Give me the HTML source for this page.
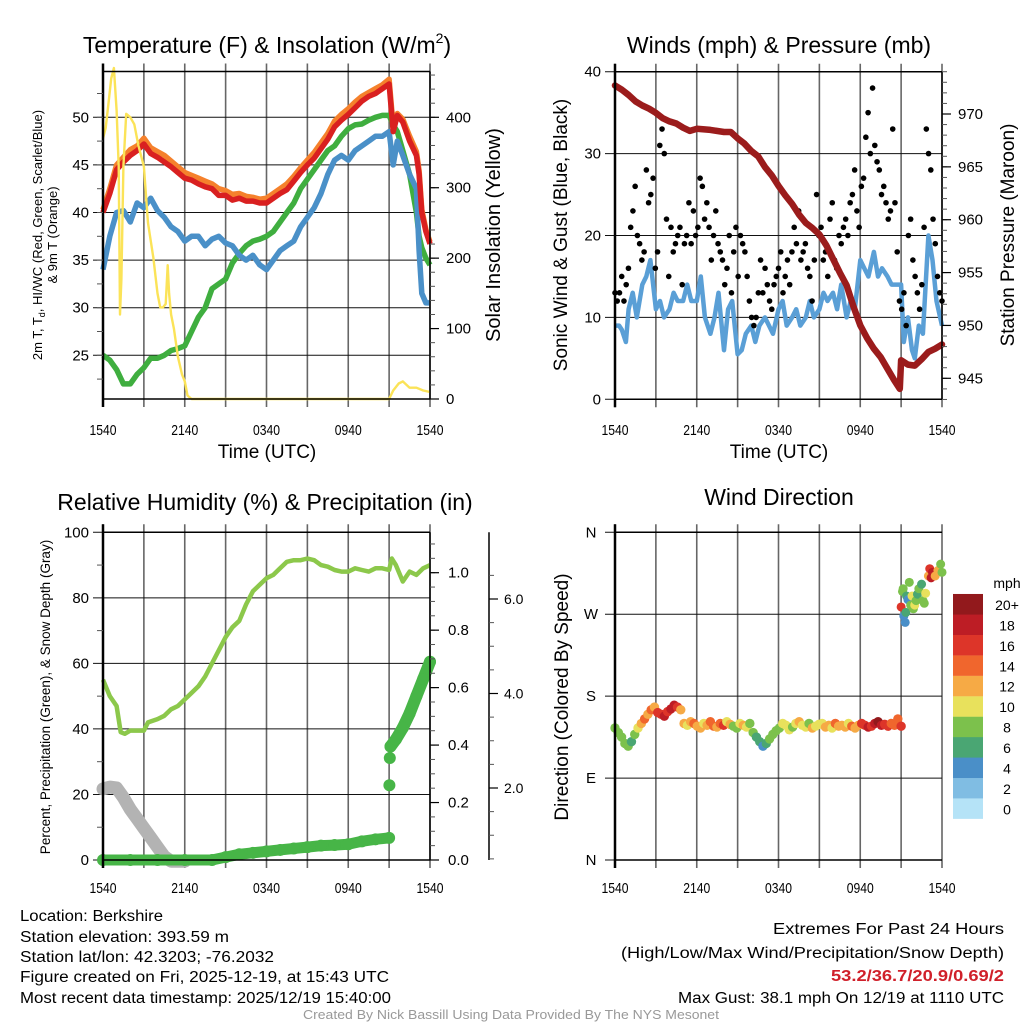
<!DOCTYPE html>
<html><head><meta charset="utf-8"><style>
html,body{margin:0;padding:0;background:#fff;}
svg{display:block;font-family:"Liberation Sans",sans-serif;}
</style></head><body>
<svg id="fig" width="1024" height="1024" viewBox="0 0 1024 1024" xmlns="http://www.w3.org/2000/svg">
<rect x="0" y="0" width="1024" height="1024" fill="#fff"/>
<g id="layer-grid"></g>
<g id="layer-data"></g>
<g id="layer-axes"></g>
<g id="layer-text" fill="#000">
<text x="267" y="53" font-size="23" text-anchor="middle">Temperature (F) &amp; Insolation (W/m<tspan font-size="14" dy="-10">2</tspan><tspan dy="10">)</tspan></text>
<text x="779" y="53" font-size="23" text-anchor="middle">Winds (mph) &amp; Pressure (mb)</text>
<text x="265" y="510" font-size="23" text-anchor="middle">Relative Humidity (%) &amp; Precipitation (in)</text>
<text x="779" y="505" font-size="23" text-anchor="middle">Wind Direction</text>

<text transform="translate(42,235) rotate(-90)" font-size="13" text-anchor="middle">2m T, T<tspan font-size="9" dy="3">d</tspan><tspan dy="-3">, HI/WC (Red, Green, Scarlet/Blue)</tspan></text>
<text transform="translate(57,235) rotate(-90)" font-size="13" text-anchor="middle">&amp; 9m T (Orange)</text>
<text transform="translate(500,235) rotate(-90)" font-size="20" text-anchor="middle">Solar Insolation (Yellow)</text>
<text x="267" y="458" font-size="19" text-anchor="middle">Time (UTC)</text>
<text transform="translate(567,235) rotate(-90)" font-size="19" text-anchor="middle">Sonic Wind &amp; Gust (Blue, Black)</text>
<text transform="translate(1014,235) rotate(-90)" font-size="19" text-anchor="middle">Station Pressure (Maroon)</text>
<text x="779" y="458" font-size="19" text-anchor="middle">Time (UTC)</text>
<text transform="translate(50,697) rotate(-90)" font-size="13.5" text-anchor="middle">Percent, Precipitation (Green), &amp; Snow Depth (Gray)</text>
<text transform="translate(568,697) rotate(-90)" font-size="19" text-anchor="middle">Direction (Colored By Speed)</text>
<text x="1007" y="588" font-size="14" text-anchor="middle">mph</text>

<text x="20" y="921" font-size="15.5" textLength="143" lengthAdjust="spacingAndGlyphs">Location: Berkshire</text>
<text x="20" y="942" font-size="15.5" textLength="209" lengthAdjust="spacingAndGlyphs">Station elevation: 393.59 m</text>
<text x="20" y="962" font-size="15.5" textLength="254" lengthAdjust="spacingAndGlyphs">Station lat/lon: 42.3203; -76.2032</text>
<text x="20" y="982" font-size="15.5" textLength="369" lengthAdjust="spacingAndGlyphs">Figure created on Fri, 2025-12-19, at 15:43 UTC</text>
<text x="20" y="1003" font-size="15.5" textLength="371" lengthAdjust="spacingAndGlyphs">Most recent data timestamp: 2025/12/19 15:40:00</text>
<text x="1004" y="934" font-size="15.5" text-anchor="end" textLength="231" lengthAdjust="spacingAndGlyphs">Extremes For Past 24 Hours</text>
<text x="1004" y="958" font-size="15.5" text-anchor="end" textLength="383" lengthAdjust="spacingAndGlyphs">(High/Low/Max Wind/Precipitation/Snow Depth)</text>
<text x="1004" y="981" font-size="15.5" font-weight="bold" fill="#d0202a" text-anchor="end" textLength="173" lengthAdjust="spacingAndGlyphs">53.2/36.7/20.9/0.69/2</text>
<text x="1004" y="1003" font-size="15.5" text-anchor="end" textLength="326" lengthAdjust="spacingAndGlyphs">Max Gust: 38.1 mph On 12/19 at 1110 UTC</text>
<text x="511" y="1019" font-size="12.5" fill="#999" text-anchor="middle" textLength="416" lengthAdjust="spacingAndGlyphs">Created By Nick Bassill Using Data Provided By The NYS Mesonet</text>
</g>
</svg>
<script>
// ---------- DATA ----------
var xTickLabels = ["1540","2140","0340","0940","1540"];
var tempTicks = [25,30,35,40,45,50];
var solarTicks = [0,100,200,300,400];
var windTicks = [0,10,20,30,40];
var pressTicks = [945,950,955,960,965,970];
var rhTicks = [0,20,40,60,80,100];
var precipTicks = [0.0,0.2,0.4,0.6,0.8,1.0];
var precipTickLabels = ["0.0","0.2","0.4","0.6","0.8","1.0"];
var snowTicks = [2,4,6];
var snowTickLabels = ["2.0","4.0","6.0"];
var dirTicks = [0,90,180,270,360];
var dirTickLabels = ["N","E","S","W","N"];
var speedBins = ["0","2","4","6","8","10","12","14","16","18","20+"];
var speedColors = ["#b5e3f7","#80bde3","#4a8fc8","#4aa673","#7cc14c","#e8e15c","#f6aa45","#f0662d","#dd3529","#bd1d25","#92191c"];

var tempHours = [0,0.5,1,1.5,2,2.5,3,3.5,4,4.5,5,5.5,6,6.5,7,7.5,8,8.5,9,9.5,10,10.5,11,11.5,12,12.5,13,13.5,14,14.5,15,15.5,16,16.5,17,17.5,18,18.5,19,19.5,20,20.5,21,21.3,21.6,22,22.5,23,23.2,23.4,23.7,24];
var tempRed = [40,42,44.5,45.3,46,46.5,47.2,46.2,45.8,45.3,44.8,44.2,43.6,43.4,43,42.7,42.5,41.8,41.8,41.3,41.5,41.2,41.2,41,41,41.5,42,42.4,43.3,44.2,45,45.7,46.7,47.7,49,49.7,50.3,51,51.7,52.2,52.5,53,53.5,48.5,50.2,49.5,47.5,46,44,40,38,36.7];
var tempOrange = [40.3,42.5,45,45.8,46.6,47,47.8,46.8,46.4,46,45.4,44.8,44.2,43.9,43.6,43.3,43,42.5,42.3,41.9,42,41.7,41.6,41.4,41.5,42,42.5,43,43.8,44.7,45.5,46.3,47.3,48.3,49.6,50.3,50.9,51.6,52.2,52.6,53,53.4,54,49,50.4,49.8,48,46.4,44.4,40.3,38.2,36.9];
var tempDew = [25,24.5,23.5,22,22,23,23.7,24.7,24.7,25,25.5,25.7,26,27.5,29,30,32,32.5,33,34.7,35.7,36.5,37,37.2,37.5,38,39,40,41,42.5,43.5,44.5,45.5,46.5,47,48,48.8,49.2,49.3,49.7,50,50.2,50.2,49.2,48.5,46.5,44,40,37.5,36.3,35.2,34.5];
var tempChill = [34,37.5,40,40.2,39,41,40.5,41.5,40.2,39.5,38.5,38,37,37.5,37.5,36.5,37.2,37.5,36.8,36.5,35.5,35,35.5,34.5,34,35,36,36.5,37,38.5,39.5,40.5,42,44,45.5,46,45.5,46.5,47,47.5,48,48,48.5,45,47.5,46,44,42.5,36,31.5,30.5,30.5];

var solarHours = [0,0.2,0.4,0.6,0.8,1,1.15,1.25,1.35,1.5,1.7,2,2.3,2.6,3,3.3,3.7,4,4.2,4.4,4.6,4.75,4.85,5,5.2,5.5,5.8,6,6.2,6.5,10,15,20,21,21.3,21.7,22,22.5,23,23.5,24];
var solarVals = [370,385,420,455,470,410,330,120,170,330,405,400,390,360,330,250,200,150,130,130,135,190,150,120,100,60,35,25,5,0,0,0,0,0,12,22,25,16,16,12,10];

var pressHours = [0,0.5,1,1.5,2,2.5,3,3.5,4,4.5,5,5.5,6,7,8,8.5,9,9.5,10,10.5,11,11.5,12,12.5,13,13.5,14,14.5,15,15.5,16,16.5,17,17.5,18,18.5,19,19.5,20,20.5,20.9,21,21.5,22,22.5,23,23.5,24];
var pressVals = [972.7,972.3,971.8,971.2,970.8,970.5,970.1,969.6,969.3,969.1,968.7,968.4,968.6,968.5,968.3,968.3,967.7,967.2,966.5,966,965,964.2,963.2,962.3,961.5,960.5,959.7,959.2,958.6,957.6,956.3,955,953.8,951.8,950,948.8,947.8,947,945.9,944.8,944,946.7,946.3,946.2,946.8,947.5,947.8,948.2];

var windHours = [0,0.3,0.5,0.8,1,1.3,1.6,2,2.3,2.6,3,3.3,3.6,4,4.3,4.6,5,5.3,5.6,6,6.3,6.6,7,7.3,7.6,8,8.3,8.6,9,9.3,9.6,10,10.3,10.6,11,11.3,11.6,12,12.3,12.6,13,13.3,13.6,14,14.3,14.6,15,15.3,15.6,16,16.3,16.6,17,17.3,17.6,18,18.3,18.6,19,19.3,19.6,20,20.3,20.6,21,21.2,21.5,21.8,22,22.3,22.6,23,23.3,23.6,24];
var windVals = [9,9,8.5,7,11,13,10,14,15,17,11,12,10,11,13,12,12,14,12,12,15,10,8,10,13,6,11,12,5.5,6,8,9,7,9,10,9,8,11,12,9,10,11,9,10,12,10,11,13,12,13,11,14,10,12,11,17,16,15,18,15,16,15,14,14,14,7,10,6,5,9,8,20,17,12,9];

var gustVals = [13,12,13,15,12,14,16,21,23,26,20,19,17,18,28,24,25,27,16,18,31,33,30,22,15,21,18,19,20,21,14,19,20,24,19,23,20,21,27,26,22,24,21,17,20,23,19,18,17,14,16,20,13,18,21,15,20,19,18,15,12,10,9,10,13,17,13,16,14,12,11,14,15,16,18,13,15,17,14,18,21,19,23,17,18,19,16,15,12,17,25,20,21,17,18,15,22,24,17,16,20,19,21,22,20,24,25,28,23,21,26,27,32,35,30,38,31,29,28,25,26,24,22,23,33,24,18,12,11,13,9,20,22,17,15,13,11,14,21,33,30,28,22,19,15,13,12];

var rhHours = [0,0.5,1,1.3,1.6,2,2.5,3,3.3,4,4.5,5,5.5,6,6.5,7,7.5,8,8.5,9,9.5,10,10.5,11,11.5,12,12.5,13,13.5,14,14.5,15,15.5,16,16.5,17,17.5,18,18.5,19,19.5,20,20.5,21,21.2,21.5,22,22.5,23,23.5,24];
var rhVals = [55,50,47,39,38.5,39.5,39.5,39.5,42,43,44,46,47,49,51,53,56,60,64,68,71,73,78,82,84,86,87,89,91,91.5,91.5,92,91.5,90,89.5,88.5,88,88,89,88.5,88,89,89,88.5,92,90,85,88,87,89,90];

var precipHours = [0,2,4,6,8,9,10,11,12,13,14,15,16,17,18,19,20,21,21.02,21.05,21.1,21.5,22,22.5,23,23.5,24];
var precipVals = [0,0,0,0,0,0.01,0.02,0.025,0.03,0.035,0.04,0.045,0.05,0.052,0.055,0.065,0.072,0.077,0.26,0.355,0.395,0.42,0.46,0.51,0.57,0.63,0.69];

var snowHours = [0,0.5,1,1.5,2,2.5,3,3.5,4,4.5,5,5.5,6];
var snowVals = [1.98,2.02,2.0,1.8,1.55,1.35,1.15,0.95,0.75,0.55,0.45,0.45,0.45];

var dirVals1 = [145,140,135,128,125,130,138,145,150,155,160,165,168,162,160,158,163,166,170,168,165,150,148,152,150,147,145,150,148,152,147,146,150,148,152,149,147,145,150,148,146,150,140,135,130,125,128,133,138,142,145,150,148,143,146,150,152,148,146,150,145,147,149,150,146,148,145,150,147,148,146,150,147,145,148,150,148,146,147,150,152,148,149,147,150,148,155,147];
var spdVals1 = [8,8,8,9,9,7,8,10,12,14,13,15,12,16,17,18,17,19,18,16,13,12,11,12,14,12,13,11,13,15,14,12,15,16,10,12,9,8,10,12,11,9,8,7,6,5,6,9,8,8,9,10,10,11,8,10,12,11,10,9,12,11,10,11,12,13,11,14,12,12,13,11,14,12,13,16,17,18,17,19,21,18,17,16,15,14,14,16];
var dirHours2 = [21.0,21.1,21.15,21.2,21.3,21.35,21.4,21.5,21.6,21.7,21.8,21.9,22.0,22.1,22.2,22.3,22.5,22.6,22.7,22.8,23.0,23.1,23.2,23.3,23.5,23.7,23.9,24.0];
var dirVals2 = [278,295,298,268,261,272,290,286,305,280,290,276,280,285,292,298,303,285,282,293,312,320,310,316,312,318,325,316];
var spdVals2 = [17,8,8,5,4,6,7,4,8,9,10,8,10,8,7,8,7,8,9,10,12,17,19,18,12,13,8,8];

// ---------- HELPERS ----------
var NS = "http://www.w3.org/2000/svg";
var gGrid = document.getElementById("layer-grid");
var gData = document.getElementById("layer-data");
var gAxes = document.getElementById("layer-axes");
function mk(tag, parent, attrs) {
  var e = document.createElementNS(NS, tag);
  for (var k in attrs) e.setAttribute(k, attrs[k]);
  parent.appendChild(e);
  return e;
}
function lin(d0, d1, r0, r1) { return function (v) { return r0 + (v - d0) * (r1 - r0) / (d1 - d0); }; }
function pathFrom(xs, ys, fx, fy) {
  var s = "";
  for (var i = 0; i < xs.length; i++) s += (i ? "L" : "M") + fx(xs[i]).toFixed(1) + "," + fy(ys[i]).toFixed(1);
  return s;
}
function speedColor(s) { var i = Math.min(10, Math.floor(s / 2)); return speedColors[i]; }

function panelBase(x0, x1, y0, y1, yGridVals, fy, prefix, labelY) {
  var fx = lin(0, 24, x0, x1);
  for (var h = 0; h <= 24; h += 3) {
    var vl = mk("line", gGrid, {x1: fx(h), x2: fx(h), y1: y0 - 8, y2: y1 + 8, stroke: "#666", "stroke-width": 1.6});
    
    
  }
  for (var i = 0; i < yGridVals.length; i++) {
    var hl = mk("line", gGrid, {x1: x0 - 10, x2: x1, y1: fy(yGridVals[i]), y2: fy(yGridVals[i]), stroke: "#111", "stroke-width": 1});
    
    
  }
  var top = mk("line", gAxes, {x1: x0, x2: x1, y1: y0, y2: y0, stroke: "#000", "stroke-width": 1.5});
  
  
  var left = mk("line", gAxes, {x1: x0, x2: x0, y1: y0 - 8, y2: y1 + 8, stroke: "#000", "stroke-width": 2.5});
  
  
  var bottom = mk("line", gAxes, {x1: x0, x2: x1, y1: y1, y2: y1, stroke: "#000", "stroke-width": 1.5});
  
  
  for (var j = 0; j < xTickLabels.length; j++) {
    var t = mk("text", gAxes, {x: fx(j * 6), y: labelY, "font-size": 15, "text-anchor": "middle", textLength: 27, lengthAdjust: "spacingAndGlyphs"});
    t.textContent = xTickLabels[j];
    
    
  }
  return fx;
}
function leftTicks(x0, vals, labels, fy, prefix, fs) {
  for (var i = 0; i < vals.length; i++) {
    var t = mk("text", gAxes, {x: x0 - 14, y: fy(vals[i]) + 5, "font-size": fs || 15, "text-anchor": "end"});
    t.textContent = labels[i];
    
    
  }
}
function rightAxis(x, vals, labels, fy, minors, prefix, lx, yTop, yBot, fs) {
  var ax = mk("line", gAxes, {x1: x, x2: x, y1: yTop, y2: yBot, stroke: "#000", "stroke-width": 1.5});
  
  
  for (var m = 0; m < minors.length; m++) {
    var tk = mk("line", gAxes, {x1: x, x2: x + 5, y1: fy(minors[m]), y2: fy(minors[m]), stroke: "#555", "stroke-width": 1});
    
    
  }
  for (var i = 0; i < vals.length; i++) {
    var mj = mk("line", gAxes, {x1: x, x2: x + 9, y1: fy(vals[i]), y2: fy(vals[i]), stroke: "#000", "stroke-width": 1.2});
    
    
    var t = mk("text", gAxes, {x: lx, y: fy(vals[i]) + 5, "font-size": fs || 15, "text-anchor": "start"});
    t.textContent = labels[i];
    
    
  }
}
function range(a, b, s) { var r = []; for (var v = a; v <= b + 1e-9; v += s) r.push(+v.toFixed(4)); return r; }

// ---------- PANEL 1: Temperature ----------
var fyT = lin(50, 25, 117.3, 355.3);
var fyS = lin(0, 400, 399, 117.3);
var fx1 = panelBase(103, 430, 71.5, 399, tempTicks, fyT, "temp", 435);
leftTicks(103, tempTicks, tempTicks.map(String), fyT, "temp");
rightAxis(430, solarTicks, solarTicks.map(String), fyS, range(0, 460, 20), "solar", 446, 71.5, 399);
var minT = range(22.5, 52.5, 2.5);
for (var i = 0; i < minT.length; i++) {
  var mt = mk("line", gAxes, {x1: 97, x2: 103, y1: fyT(minT[i]), y2: fyT(minT[i]), stroke: "#555", "stroke-width": 1});
  
  
}
var pDew = mk("path", gData, {d: pathFrom(tempHours, tempDew, fx1, fyT), fill: "none", stroke: "#3fae3f", "stroke-width": 5.5, "stroke-linejoin": "round"});


var pChill = mk("path", gData, {d: pathFrom(tempHours, tempChill, fx1, fyT), fill: "none", stroke: "#4a90c8", "stroke-width": 5.5, "stroke-linejoin": "round"});


var pOr = mk("path", gData, {d: pathFrom(tempHours, tempOrange, fx1, fyT), fill: "none", stroke: "#f5812c", "stroke-width": 5.5, "stroke-linejoin": "round"});


var pRed = mk("path", gData, {d: pathFrom(tempHours, tempRed, fx1, fyT), fill: "none", stroke: "#d92020", "stroke-width": 5.5, "stroke-linejoin": "round"});


var pSol = mk("path", gData, {d: pathFrom(solarHours, solarVals, fx1, fyS), fill: "none", stroke: "#fbe358", "stroke-width": 2.4, "stroke-linejoin": "round"});



// ---------- PANEL 2: Winds ----------
var fyW = lin(0, 40, 399.3, 71.7);
var fyP = lin(945, 970, 378.3, 114);
var fx2 = panelBase(615, 942, 71.7, 399.3, windTicks, fyW, "wind", 435);
leftTicks(615, windTicks, windTicks.map(String), fyW, "wind");
rightAxis(942, pressTicks, pressTicks.map(String), fyP, range(943, 974, 1), "pressure", 958, 71.7, 399.3);
var pWind = mk("path", gData, {d: pathFrom(windHours, windVals, fx2, fyW), fill: "none", stroke: "#5a9fd6", "stroke-width": 4.5, "stroke-linejoin": "round"});


for (var i = 0; i < gustVals.length; i++) {
  var gh = i * 24 / (gustVals.length - 1);
  var c = mk("circle", gData, {cx: fx2(gh), cy: fyW(gustVals[i]), r: 2.8, fill: "#000"});
  
  
}
var pPr = mk("path", gData, {d: pathFrom(pressHours, pressVals, fx2, fyP), fill: "none", stroke: "#9b1c1c", "stroke-width": 6.5, "stroke-linejoin": "round", "stroke-linecap": "round"});



// ---------- PANEL 3: RH / precip ----------
var fyR = lin(0, 100, 860, 532.3);
var fyPr = lin(0, 1, 860, 572.7);
var fySn = lin(2, 6, 788, 599);
var fx3 = panelBase(103, 430, 532.3, 860, rhTicks, fyR, "rh", 893);
leftTicks(103, rhTicks, rhTicks.map(String), fyR, "rh");
var minR = range(10, 90, 20);
for (var i = 0; i < minR.length; i++) {
  var mr = mk("line", gAxes, {x1: 97, x2: 103, y1: fyR(minR[i]), y2: fyR(minR[i]), stroke: "#555", "stroke-width": 1});
  
  
}
rightAxis(430, precipTicks, precipTickLabels, fyPr, range(0, 1.1, 0.05), "precip", 448, 532.3, 860);
rightAxis(489, snowTicks, snowTickLabels, fySn, range(0.5, 6.9, 0.5), "snow", 504, 532.3, 860, 14);
var pSnow = mk("path", gData, {d: pathFrom(snowHours, snowVals, fx3, fySn), fill: "none", stroke: "#b3b3b3", "stroke-width": 13, "stroke-linejoin": "round", "stroke-linecap": "round"});


var pRh = mk("path", gData, {d: pathFrom(rhHours, rhVals, fx3, fyR), fill: "none", stroke: "#8cc84b", "stroke-width": 4.5, "stroke-linejoin": "round"});


var pPc = mk("path", gData, {d: pathFrom(precipHours.slice(0, 18), precipVals.slice(0, 18), fx3, fyPr), fill: "none", stroke: "#47b547", "stroke-width": 11, "stroke-linejoin": "round", "stroke-linecap": "round"});


var pPc2 = mk("path", gData, {d: pathFrom(precipHours.slice(20), precipVals.slice(20), fx3, fyPr), fill: "none", stroke: "#47b547", "stroke-width": 12, "stroke-linejoin": "round", "stroke-linecap": "round"});


for (var i = 0; i < precipHours.length; i++) {
  var pc = mk("circle", gData, {cx: fx3(precipHours[i]), cy: fyPr(precipVals[i]), r: 6, fill: "#47b547"});
  
  
}

// ---------- PANEL 4: Direction ----------
var fyD = lin(0, 360, 860, 532.3);
var fx4 = panelBase(615, 942, 532.3, 860, dirTicks, fyD, "direction", 893);
for (var i = 0; i < dirTicks.length; i++) {
  var dl = mk("text", gAxes, {x: 591, y: fyD(dirTicks[i]) + 5, "font-size": 15, "text-anchor": "middle"});
  dl.textContent = dirTickLabels[i];
  
  
}
for (var i = 0; i < dirVals1.length; i++) {
  var dh = i * 21 / (dirVals1.length - 1);
  var dc = mk("circle", gData, {cx: fx4(dh), cy: fyD(dirVals1[i]), r: 4.7, fill: speedColor(spdVals1[i])});
  
  
}
for (var i = 0; i < dirHours2.length; i++) {
  var dc2 = mk("circle", gData, {cx: fx4(dirHours2[i]), cy: fyD(dirVals2[i]), r: 4.5, fill: speedColor(spdVals2[i])});
  
  
}
for (var i = 0; i < speedBins.length; i++) {
  var yy = 818.7 - (i + 1) * 20.43;
  var lb = mk("rect", gAxes, {x: 953, y: yy, width: 30, height: 20.6, fill: speedColors[i]});
  
  
  var lt = mk("text", gAxes, {x: 1007, y: yy + 16, "font-size": 14, "text-anchor": "middle"});
  lt.textContent = speedBins[i];
  
  
}
</script>
</body></html>
